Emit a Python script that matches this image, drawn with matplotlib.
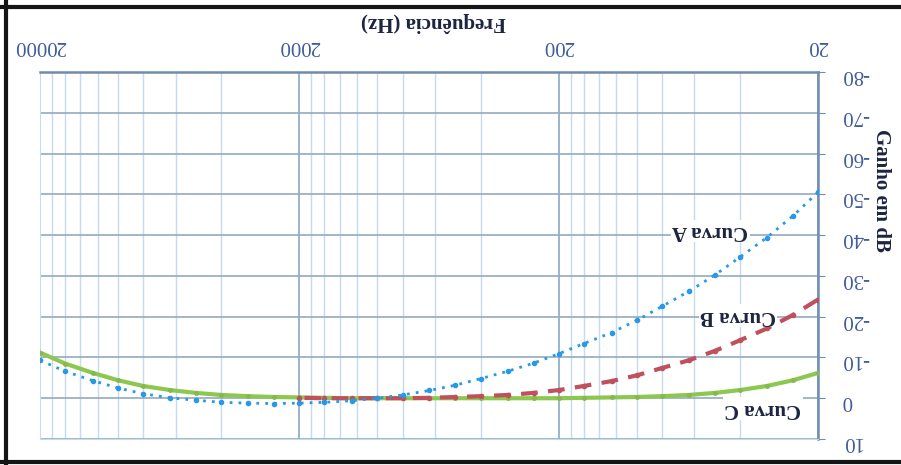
import matplotlib.pyplot as plt
import matplotlib.ticker as mticker
from matplotlib.lines import Line2D
import numpy as np

plt.rcParams["axes.unicode_minus"] = False

# third-octave frequencies (Hz)
freq = [20, 25, 31.5, 40, 50, 63, 80, 100, 125, 160, 200, 250, 315, 400, 500,
        630, 800, 1000, 1250, 1600, 2000, 2500, 3150, 4000, 5000, 6300, 8000,
        10000, 12500, 16000, 20000]
curva_a = [-50.5, -44.7, -39.4, -34.6, -30.2, -26.2, -22.5, -19.1, -16.1, -13.4,
           -10.9, -8.6, -6.6, -4.8, -3.2, -1.9, -0.8, 0.0, 0.6, 1.0, 1.2, 1.3,
           1.2, 1.0, 0.5, -0.1, -1.1, -2.5, -4.3, -6.6, -9.3]
freq_b = [20, 25, 31.5, 40, 50, 63, 80, 100, 125, 160, 200, 250, 315, 400, 500,
          630, 800, 1000, 1250, 1600, 2000]
curva_b = [-24.2, -20.4, -17.1, -14.2, -11.6, -9.3, -7.4, -5.6, -4.2, -3.0, -2.0,
           -1.3, -0.8, -0.5, -0.3, -0.1, 0.0, 0.0, 0.0, 0.0, -0.1]
curva_c = [-6.2, -4.4, -3.0, -2.0, -1.3, -0.8, -0.5, -0.3, -0.2, -0.1, 0.0, 0.0,
           0.0, 0.0, 0.0, 0.0, 0.0, 0.0, 0.0, -0.1, -0.2, -0.3, -0.5, -0.8, -1.3,
           -2.0, -3.0, -4.4, -6.2, -8.5, -11.2]

x_ticks = [20, 200, 2000, 20000]
y_ticks = list(range(-80, 11, 10))

serif = "Liberation Serif"
tick_col = "#3f5c9c"
text_col = "#1c2440"

fig = plt.figure(figsize=(9.01, 4.65), dpi=100)
ax = fig.add_axes([40 / 901, 26 / 465, 778 / 901, 367 / 465])

ax.plot(freq, curva_c, color="#8cc850", lw=3, marker="o", ms=2.5,
        mfc="#86b84c", mec="#86b84c", zorder=3)
ax.plot(freq_b, curva_b, color="#c0505c", lw=3, ls=(0, (4, 2.5)), marker="o",
        ms=3, zorder=4)
ax.plot(freq, curva_a, color="#2a98e6", lw=2, ls=(0, (1, 2.2)), marker="o",
        ms=3, zorder=5)

ax.set_xscale("log")
ax.set_xlim(20000, 20)
ax.set_ylim(10, -80)

ax.xaxis.set_major_locator(mticker.FixedLocator(x_ticks))
minors = [m * k for m in x_ticks[:-1] for k in range(2, 10)]
ax.xaxis.set_minor_locator(mticker.FixedLocator(minors))
ax.xaxis.set_minor_formatter(mticker.NullFormatter())
ax.xaxis.set_major_formatter(mticker.FuncFormatter(lambda v, p: f"{int(v)}"))
ax.set_yticks(y_ticks)

ax.xaxis.tick_top()
ax.yaxis.tick_right()
ax.tick_params(axis="x", which="major", labelrotation=180, labelsize=15,
               labelcolor=tick_col, length=0, pad=12)
ax.tick_params(axis="x", which="minor", length=0)
ax.tick_params(axis="y", labelrotation=180, labelsize=15, labelcolor=tick_col,
               length=5, color="#6f8fb0", pad=12)
for lab in ax.get_xticklabels() + ax.get_yticklabels():
    lab.set_family(serif)

ax.grid(True, which="minor", axis="x", color="#c6dbee", lw=1)
ax.grid(True, which="major", axis="x", color="#8aa8c6", lw=1.2)
ax.grid(True, which="major", axis="y", color="#94aabf", lw=1.2)

for side in ["left", "bottom"]:
    ax.spines[side].set_color("#c6dbee")
ax.spines["top"].set_color("#6e8cab")
ax.spines["top"].set_linewidth(1.8)
ax.spines["right"].set_color("#6f8fb0")
ax.spines["right"].set_linewidth(1.8)

box = dict(facecolor="white", edgecolor="none", pad=1)
ax.text(52, -41, "Curva A", rotation=180, ha="center", va="center", fontsize=15,
        family=serif, fontweight="bold", color=text_col, bbox=box, zorder=6)
ax.text(40.7, -20.2, "Curva B", rotation=180, ha="center", va="center", fontsize=15,
        family=serif, fontweight="bold", color=text_col, bbox=box, zorder=6)
ax.text(32.6, 2.6, "Curva C", rotation=180, ha="center", va="center", fontsize=15,
        family=serif, fontweight="bold", color=text_col, bbox=box, zorder=6)

fig.text(433 / 901, 1 - 22 / 465, "Frequência (Hz)", rotation=180, ha="center",
         va="center", fontsize=15, family=serif, fontweight="bold", color=text_col)
fig.text(881 / 901, 1 - 190 / 465, "Ganho em dB", rotation=270, ha="center",
         va="center", fontsize=15, family=serif, fontweight="bold", color=text_col)

# dark scan border on three sides
for xs, ys in [([6 / 901, 6 / 901], [0, 1]), ([0, 1], [1 - 7 / 465, 1 - 7 / 465]),
               ([0, 1], [3 / 465, 3 / 465])]:
    fig.add_artist(Line2D(xs, ys, color="#151515", lw=3, transform=fig.transFigure))

fig.savefig("out.png", dpi=100)
